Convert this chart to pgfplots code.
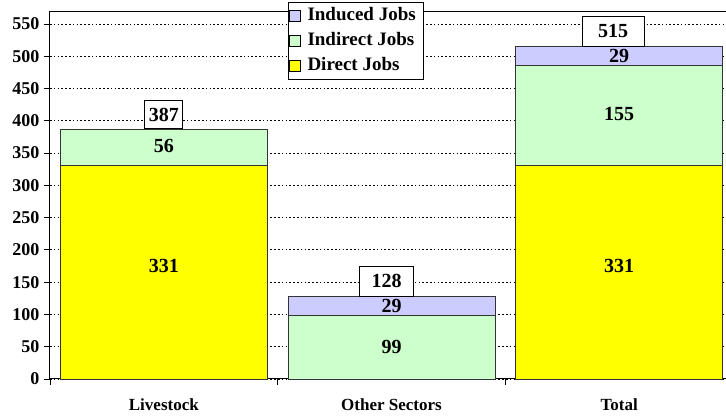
\documentclass[border=0pt]{standalone}
\usepackage{fontspec}
\setmainfont{Liberation Serif}
\usepackage{pgfplots}
\pgfplotsset{compat=1.18}
\definecolor{cDirect}{HTML}{FFFF00}
\definecolor{cIndirect}{HTML}{CCFFCC}
\definecolor{cInduced}{HTML}{CCCCFF}
\newcommand{\fs}[1]{\fontsize{#1}{#1}\selectfont\bfseries}
\pgfplotsset{
  base/.style={
    at={(50pt,38pt)}, anchor=south west,
    scale only axis, width=683pt, height=368pt,
    xmin=-0.5, xmax=2.5, ymin=0, ymax=570,
    clip=false,
  },
}
\begin{document}
\begin{tikzpicture}[x=1pt,y=1pt]
\useasboundingbox (0,0) rectangle (726,417);
\begin{axis}[base,
  ybar stacked, bar width=207pt,
  axis line style={black, line width=1pt},
  xtick={-0.5,0.5,1.5,2.5}, xticklabels={},
  extra x ticks={0,1,2},
  extra x tick labels={Livestock, Other Sectors, Total},
  extra x tick style={major tick length=0pt, grid=none,
     xticklabel style={yshift=-16pt}},
  ytick={0,50,100,150,200,250,300,350,400,450,500,550},
  yticklabels={0,50,100,150,200,250,300,350,400,450,500,550},
  xtick pos=bottom, ytick pos=left,
  tick align=outside, major tick length=6pt,
  tick style={black, line width=0.8pt},
  ymajorgrids, grid style={black, line width=0.8pt, dash pattern=on 1.6pt off 2.2pt},
  xticklabel style={font=\fs{17}},
  yticklabel style={font=\fs{18}, xshift=-1pt},
  reverse legend,
  legend style={at={(rel axis cs:0.3485,1)}, anchor=north west, yshift=9pt,
    draw=black, line width=0.8pt, inner sep=1pt, font=\fs{19},
    row sep=0pt,
    nodes={inner ysep=4pt, inner xsep=6.5pt, text height=13pt, text depth=4pt, line width=0.6pt}},
  legend cell align=left,
  legend image code/.code={\draw[#1, draw=black, line width=0.6pt] (4pt,-5.5pt) rectangle (15pt,5.5pt);},
]
\addplot[fill=cDirect, draw=black!80, line width=0.8pt] coordinates {(0,331) (1,0) (2,331)};
\addplot[fill=cIndirect, draw=black!80, line width=0.8pt] coordinates {(0,56) (1,99) (2,155)};
\addplot[fill=cInduced, draw=black!80, line width=0.8pt] coordinates {(0,0) (1,29) (2,29)};
\legend{Direct Jobs, Indirect Jobs, Induced Jobs}
\end{axis}
\begin{axis}[base, hide axis]
\addplot[draw=none, mark=none, nodes near coords, point meta=explicit symbolic,
  every node near coord/.append style={anchor=center, font=\fs{20}, inner sep=0pt}]
  table[meta=l] {
x y l
0 175.5 331
0 361 56
1 49.5 99
1 113.5 29
2 175.5 331
2 410 155
2 500.5 29
};
\addplot[draw=none, mark=none, nodes near coords, point meta=explicit symbolic,
  every node near coord/.append style={anchor=south, font=\fs{20}, fill=white, draw=black,
     line width=0.8pt, minimum width=38pt, minimum height=28pt, inner sep=0pt}]
  table[meta=l] {
x y l
0 387 387
};
\addplot[draw=none, mark=none, nodes near coords, point meta=explicit symbolic,
  every node near coord/.append style={anchor=south, font=\fs{20}, fill=white, draw=black,
     line width=0.8pt, minimum width=54pt, minimum height=30pt, inner sep=0pt, xshift=-5pt}]
  table[meta=l] {
x y l
1 128 128
};
\addplot[draw=none, mark=none, nodes near coords, point meta=explicit symbolic,
  every node near coord/.append style={anchor=south, font=\fs{20}, fill=white, draw=black,
     line width=0.8pt, minimum width=62pt, minimum height=30pt, inner sep=0pt, xshift=-6pt}]
  table[meta=l] {
x y l
2 515 515
};
\end{axis}
\end{tikzpicture}
\end{document}
